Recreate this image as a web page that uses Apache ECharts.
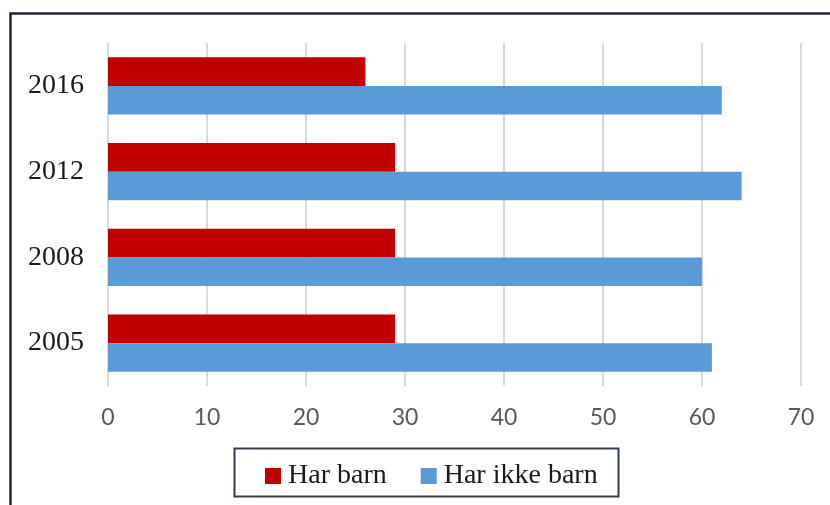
<!DOCTYPE html>
<html>
<head>
<meta charset="utf-8">
<script src="https://cdn.jsdelivr.net/npm/echarts@6/dist/echarts.min.js"></script>
<style>
html,body{margin:0;padding:0;background:#fff;}
#c{width:830px;height:505px;}
</style>
</head>
<body>
<div id="c"></div>
<script>
const categories = ['2005', '2008', '2012', '2016'];
const harBarn = [29, 29, 29, 26];
const harIkkeBarn = [61, 60, 64, 62];
const xTicks = { min: 0, max: 70, interval: 10 };

const chart = echarts.init(document.getElementById('c'), null, { renderer: 'canvas' });
chart.setOption({
  animation: false,
  backgroundColor: '#ffffff',
  grid: { left: 108, right: 29, top: 43, bottom: 119, containLabel: false },
  xAxis: {
    type: 'value',
    min: xTicks.min, max: xTicks.max, interval: xTicks.interval,
    axisLine: { show: false },
    axisTick: { show: false },
    splitLine: { show: true, lineStyle: { color: '#D9D9D9', width: 2 } },
    axisLabel: { color: '#595959', fontFamily: 'Lato', fontSize: 23, margin: 20 }
  },
  yAxis: {
    type: 'category',
    data: categories,
    axisLine: { show: false },
    axisTick: { show: false },
    axisLabel: { color: '#1a1a1a', fontFamily: 'Liberation Serif', fontSize: 28, margin: 24 }
  },
  legend: {
    data: ['Har barn', 'Har ikke barn'],
    left: 260, top: 457,
    itemWidth: 16, itemHeight: 16,
    itemGap: 34,
    itemStyle: { borderWidth: 0 },
    textStyle: { fontFamily: 'Liberation Serif', fontSize: 28, color: '#1a1a1a', padding: [0,0,0,2] },
    icon: 'rect'
  },
  graphic: [
    { type: 'rect', silent: true, z: 100,
      shape: { x: 10.5, y: 13.5, width: 900, height: 600 },
      style: { fill: 'none', stroke: '#1F2630', lineWidth: 2.5 } },
    { type: 'rect', silent: true, z: 100,
      shape: { x: 234.5, y: 448.5, width: 384, height: 48 },
      style: { fill: 'none', stroke: '#333F50', lineWidth: 2 } }
  ],
  series: [
    { name: 'Har barn', type: 'bar', data: harBarn,
      itemStyle: { color: '#C00000' }, barGap: '0%', barCategoryGap: '33.5%' },
    { name: 'Har ikke barn', type: 'bar', data: harIkkeBarn,
      itemStyle: { color: '#5B9BD5' }, barGap: '0%', barCategoryGap: '33.5%' }
  ]
});
</script>
</body>
</html>
